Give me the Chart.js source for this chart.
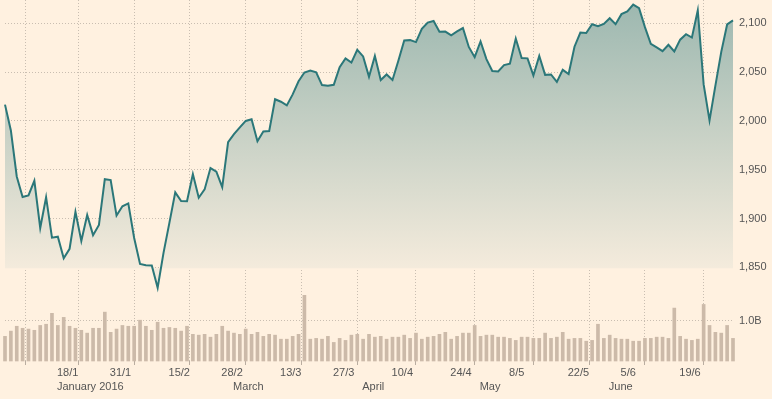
<!DOCTYPE html>
<html>
<head>
<meta charset="utf-8">
<script src="https://cdn.jsdelivr.net/npm/chart.js@4/dist/chart.umd.min.js"></script>
<style>
	html, body { margin: 0; padding: 0; background: #fff1e0; }
	#wrap { width: 772px; height: 399px; }
</style>
</head>
<body>
<div id="wrap"><canvas id="chart" width="772" height="399"></canvas></div>
<script>
// Trading days, 5 Jan - 1 Jul 2016
const dates = [
	'5/1','6/1','7/1','8/1','11/1','12/1','13/1','14/1','15/1','19/1','20/1','21/1','22/1','25/1','26/1','27/1','28/1','29/1',
	'1/2','2/2','3/2','4/2','5/2','8/2','9/2','10/2','11/2','12/2','16/2','17/2','18/2','19/2','22/2','23/2','24/2','25/2','26/2','29/2',
	'1/3','2/3','3/3','4/3','7/3','8/3','9/3','10/3','11/3','14/3','15/3','16/3','17/3','18/3','21/3','22/3','23/3','24/3','28/3','29/3','30/3','31/3',
	'1/4','4/4','5/4','6/4','7/4','8/4','11/4','12/4','13/4','14/4','15/4','18/4','19/4','20/4','21/4','22/4','25/4','26/4','27/4','28/4','29/4',
	'2/5','3/5','4/5','5/5','6/5','9/5','10/5','11/5','12/5','13/5','16/5','17/5','18/5','19/5','20/5','23/5','24/5','25/5','26/5','27/5','31/5',
	'1/6','2/6','3/6','6/6','7/6','8/6','9/6','10/6','13/6','14/6','15/6','16/6','17/6','20/6','21/6','22/6','23/6','24/6','27/6','28/6','29/6','30/6',
	'1/7'
];

// Index close
const price = [
	2016.71, 1990.26, 1943.09, 1922.03, 1923.67, 1938.68, 1890.28, 1921.84, 1880.33, 1881.33, 1859.33, 1868.99, 1906.90, 1877.08, 1903.63, 1882.95, 1893.36, 1940.24,
	1939.38, 1903.03, 1912.53, 1915.45, 1880.05, 1853.44, 1852.21, 1851.86, 1829.08, 1864.78, 1895.58, 1926.82, 1917.83, 1917.78, 1945.50, 1921.27, 1929.80, 1951.70, 1948.05, 1932.23,
	1978.35, 1986.45, 1993.40, 1999.99, 2001.76, 1979.26, 1989.26, 1989.57, 2022.19, 2019.64, 2015.93, 2027.22, 2040.59, 2049.58, 2051.60, 2049.80, 2036.71, 2035.94, 2037.05, 2055.01, 2063.95, 2059.74,
	2072.78, 2066.13, 2045.17, 2066.66, 2041.91, 2047.60, 2041.99, 2061.72, 2082.42, 2082.78, 2080.73, 2094.34, 2100.80, 2102.40, 2091.48, 2091.58, 2087.79, 2091.70, 2095.15, 2075.81, 2065.30,
	2081.43, 2063.37, 2051.12, 2050.63, 2057.14, 2058.69, 2084.39, 2064.46, 2064.11, 2046.61, 2066.66, 2047.21, 2047.63, 2040.04, 2052.32, 2048.04, 2076.06, 2090.54, 2090.10, 2099.06, 2096.95,
	2099.33, 2105.26, 2099.13, 2109.41, 2112.13, 2119.12, 2115.48, 2096.07, 2079.06, 2075.32, 2071.50, 2077.99, 2071.22, 2083.25, 2088.90, 2085.45, 2113.32, 2037.41, 2000.54, 2036.09, 2070.77, 2098.86,
	2102.95
];

// Volume, billions
const volume = [
	0.61, 0.74, 0.86, 0.81, 0.79, 0.76, 0.88, 0.91, 1.18, 0.88,
	1.08, 0.86, 0.81, 0.76, 0.69, 0.81, 0.81, 1.21, 0.71, 0.79,
	0.88, 0.86, 0.86, 1.01, 0.86, 0.76, 0.96, 0.81, 0.83, 0.81,
	0.74, 0.86, 0.66, 0.64, 0.66, 0.59, 0.66, 0.86, 0.74, 0.69,
	0.66, 0.79, 0.66, 0.71, 0.61, 0.66, 0.64, 0.54, 0.54, 0.61,
	0.66, 1.75, 0.54, 0.56, 0.54, 0.61, 0.46, 0.56, 0.51, 0.64,
	0.66, 0.54, 0.66, 0.59, 0.61, 0.54, 0.59, 0.59, 0.64, 0.56,
	0.69, 0.54, 0.59, 0.61, 0.66, 0.71, 0.54, 0.61, 0.69, 0.69,
	0.88, 0.61, 0.64, 0.64, 0.59, 0.59, 0.56, 0.51, 0.59, 0.59,
	0.56, 0.56, 0.69, 0.56, 0.59, 0.71, 0.54, 0.56, 0.56, 0.49,
	0.51, 0.91, 0.56, 0.64, 0.56, 0.54, 0.54, 0.49, 0.49, 0.56,
	0.56, 0.59, 0.59, 0.56, 1.31, 0.61, 0.54, 0.51, 0.54, 1.40,
	0.88, 0.71, 0.69, 0.88, 0.56
];

// Axis labels
const tickLabels = ['18/1', '31/1', '15/2', '28/2', '13/3', '27/3', '10/4', '24/4', '8/5', '22/5', '5/6', '19/6'];
const tickAt = ['15/1', '29/1', '12/2', '26/2', '11/3', '24/3', '8/4', '22/4', '6/5', '20/5', '3/6', '17/6'];
const monthLabels = ['January 2016', 'March', 'April', 'May', 'June'];
const monthAt = ['15/1', '1/3', '1/4', '29/4', '1/6'];
const priceTicks = [1850, 1900, 1950, 2000, 2050, 2100];
const volumeTicks = [1.0];

const textColor = '#555';
const gridColor = '#c9beb1';

Chart.defaults.font.family = "'Liberation Sans', Arial, sans-serif";
Chart.defaults.font.size = 11;
Chart.defaults.color = textColor;

// Month names under the date ticks
const monthPlugin = {
	id: 'months',
	afterDraw(chart) {
		const { ctx, chartArea, scales } = chart;
		ctx.save();
		ctx.fillStyle = textColor;
		ctx.font = "11px 'Liberation Sans', Arial, sans-serif";
		ctx.textAlign = 'left';
		ctx.textBaseline = 'middle';
		monthLabels.forEach((m, i) => {
			const x = scales.x.getPixelForValue(dates.indexOf(monthAt[i]));
			ctx.fillText(m, x + 5, chartArea.bottom + 26);
		});
		ctx.restore();
	}
};

const fillGradient = (context) => {
	const { chart } = context;
	const { ctx, chartArea, scales } = chart;
	if (!chartArea) return 'rgba(160,186,178,0.6)';
	const g = ctx.createLinearGradient(0, scales.y.getPixelForValue(2120), 0, scales.y.getPixelForValue(1849));
	g.addColorStop(0, '#9db8b0');
	g.addColorStop(1, '#f4ebdc');
	return g;
};

// no edge padding from tick labels
const noPad = (scale) => {
	scale.paddingTop = 0;
	scale.paddingBottom = 0;
	scale.paddingLeft = 0;
	scale.paddingRight = 0;
};

new Chart(document.getElementById('chart'), {
	data: {
		labels: dates,
		datasets: [
			{
				type: 'line',
				data: price,
				yAxisID: 'y',
				borderColor: '#2b7779',
				borderWidth: 2,
				pointRadius: 0,
				tension: 0,
				fill: { value: 1849 },
				backgroundColor: fillGradient,
				order: 1
			},
			{
				type: 'bar',
				data: volume,
				yAxisID: 'yv',
				backgroundColor: '#ccbaa9',
				barThickness: 3,
				clip: 5,
				order: 2
			}
		]
	},
	options: {
		responsive: false,
		animation: false,
		layout: { padding: { left: 5, right: 0, top: 0, bottom: 0 } },
		plugins: {
			legend: { display: false },
			tooltip: { enabled: false }
		},
		scales: {
			x: {
				type: 'category',
				offset: false,
				afterBuildTicks(scale) {
					scale.ticks = tickAt.map(d => ({ value: dates.indexOf(d) }));
				},
				afterFit(scale) { noPad(scale); scale.height = 38; },
				ticks: {
					autoSkip: false,
					maxRotation: 0,
					align: 'start',
					labelOffset: 5,
					padding: 1,
					callback: (value, index) => tickLabels[index]
				},
				grid: {
					color: gridColor,
					tickColor: '#b9ada0',
					tickLength: 4,
					tickBorderDash: []
				},
				border: { display: false, dash: [1, 2] }
			},
			y: {
				position: 'right',
				stack: 'right',
				stackWeight: 300,
				weight: 1,
				min: 1816.5,
				max: 2123.9,
				afterBuildTicks(scale) {
					scale.ticks = priceTicks.map(v => ({ value: v }));
				},
				afterFit(scale) { noPad(scale); scale.width = 39; },
				ticks: {
					padding: 6,
					autoSkip: false,
					callback: (v) => v.toLocaleString('en-US')
				},
				grid: { color: gridColor, drawTicks: false },
				border: { display: false, dash: [1, 2] }
			},
			yv: {
				position: 'right',
				stack: 'right',
				stackWeight: 61,
				weight: 2,
				min: 0,
				max: 1.51,
				afterBuildTicks(scale) {
					scale.ticks = volumeTicks.map(v => ({ value: v }));
				},
				afterFit(scale) { noPad(scale); scale.width = 39; },
				ticks: {
					padding: 6,
					autoSkip: false,
					callback: (v) => v.toFixed(1) + 'B'
				},
				grid: { color: gridColor, drawTicks: false },
				border: { display: false, dash: [1, 2] }
			}
		}
	},
	plugins: [monthPlugin]
});
</script>
</body>
</html>
